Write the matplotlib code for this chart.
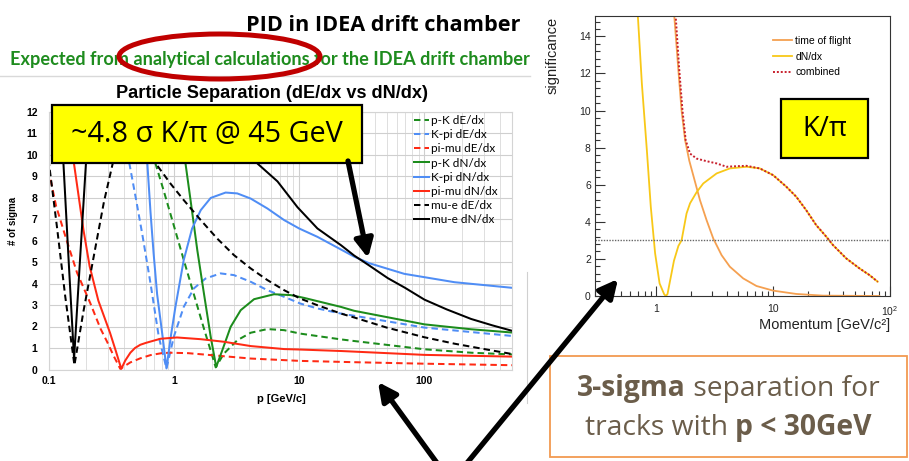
import matplotlib
matplotlib.use("Agg")
import matplotlib.pyplot as plt
from matplotlib.patches import Rectangle, Ellipse, FancyArrowPatch
from matplotlib.lines import Line2D
from matplotlib.ticker import LogLocator, MultipleLocator, NullFormatter

W, H = 909, 461

# ---- left panel: particle separation in sigma vs p [GeV/c] ----
pk_dedx_p = [0.62, 0.714, 0.832, 1.0, 1.2, 1.445, 1.74, 2.0, 2.16, 2.51, 3.21, 4.11, 5.58, 7.59, 10.2, 21.6, 27, 100, 237, 500]
pk_dedx_s = [13, 9.58, 8.3, 6.7, 5.1, 3.5, 1.9, 0.75, 0.1, 0.74, 1.36, 1.71, 1.88, 1.83, 1.67, 1.4, 1.33, 0.94, 0.78, 0.7]

kpi_dedx_p = [0.38, 0.436, 0.5, 0.56, 0.652, 0.759, 0.874, 1.0, 1.2, 1.445, 1.79, 2.36, 3.02, 4.11, 5.58, 7.59, 10.2, 14, 21.6, 27.5, 100, 500]
kpi_dedx_s = [13, 9.77, 7.9, 6.3, 4.0, 1.52, 0.05, 1.52, 2.91, 3.77, 4.23, 4.47, 4.39, 4.08, 3.69, 3.38, 3.07, 2.84, 2.6, 2.5, 1.95, 1.56]

pimu_dedx_p = [0.1, 0.115, 0.138, 0.169, 0.215, 0.26, 0.293, 0.33, 0.374, 0.41, 0.45, 0.5, 0.54, 0.652, 0.8, 0.94, 1.3, 1.64,
               4.11, 10.2, 27.5, 100, 500]
pimu_dedx_s = [9.3, 7.6, 6.1, 4.5, 3.1, 1.9, 1.3, 0.65, 0.03, 0.18, 0.33, 0.44, 0.52, 0.67, 0.76, 0.78, 0.76, 0.71,
               0.51, 0.4, 0.34, 0.27, 0.2]

pk_dndx_p = [1.1, 1.18, 1.24, 1.36, 1.54, 1.74, 1.97, 2.18, 2.44, 2.84, 3.42, 4.37, 6.31, 8.58, 10.97, 21.6, 27.5, 100, 237, 500]
pk_dndx_s = [14, 11.3, 9.58, 7.88, 5.55, 3.53, 1.52, 0.12, 0.9, 1.98, 2.76, 3.27, 3.5, 3.46, 3.33, 2.91, 2.73, 2.1, 1.87, 1.72]

kpi_dndx_p = [0.55, 0.612, 0.652, 0.69, 0.736, 0.807, 0.874, 0.95, 1.03, 1.2, 1.40, 1.64, 1.97, 2.59, 3.21, 4.11, 5.58,
              7.59, 10, 14, 21.6, 27.5, 36, 69, 174, 500]
kpi_dndx_s = [13, 9.77, 7.3, 5.4, 3.5, 1.7, 0.05, 1.6, 2.91, 5.09, 6.56, 7.41, 7.98, 8.23, 8.19, 7.95, 7.49,
              6.95, 6.56, 6.17, 5.58, 5.25, 4.95, 4.45, 4.06, 3.8]

pimu_dndx_p = [0.14, 0.158, 0.19, 0.213, 0.25, 0.31, 0.345, 0.381, 0.41, 0.45, 0.49, 0.54, 0.6, 0.652, 0.783, 1.06, 1.64,
               2.51, 4.11, 7.59, 10, 21.6, 100, 500]
pimu_dndx_s = [13, 9.77, 6.5, 4.8, 3.2, 1.7, 0.85, 0.03, 0.42, 0.78, 1.0, 1.15, 1.24, 1.3, 1.43, 1.49, 1.41,
               1.29, 1.09, 0.95, 0.93, 0.86, 0.68, 0.6]

mue_dedx_p = [0.1, 0.117, 0.136, 0.161, 0.19, 0.222, 0.277, 0.331, 0.4, 0.6, 0.714, 0.94, 1.2, 1.64, 2.22, 3.02, 4.11, 5.58,
              7.59, 10.2, 14, 21.6, 27.5, 50, 100, 174, 300, 500]
mue_dedx_s = [9.77, 6.6, 3.4, 0.2, 2.7, 4.8, 7.8, 9.77, 13, 13, 9.6, 8.65, 7.88, 6.95, 6.09, 5.32, 4.7, 4.16,
              3.69, 3.3, 2.99, 2.6, 2.42, 1.95, 1.5, 1.2, 0.95, 0.72]

mue_dndx_p = [0.125, 0.131, 0.145, 0.16, 0.178, 0.2, 0.21, 4.3, 4.65, 6.72, 9.7, 14, 21.6, 27.5, 36, 51, 70, 100, 150, 236, 350, 500]
mue_dndx_s = [12.5, 9.8, 5.0, 0.5, 5.0, 9.8, 12.5, 13, 9.58, 8.75, 7.55, 6.56, 5.78, 5.3, 4.85, 4.25, 3.8, 3.25, 2.8, 2.35, 2.05, 1.8]

left_xticks = [0.1, 1, 10, 100]
left_xticklabels = ["0.1", "1", "10", "100"]
left_yticks = list(range(13))

# ---- right panel: K/pi significance vs momentum ----
tof_p = [1.38, 1.43, 1.55, 1.65, 1.77, 1.92, 2.15, 2.37, 2.70, 3.08, 3.63, 4.27, 5.55, 7.21, 10, 15.8, 26.7, 81]
tof_s = [16, 15.08, 12.17, 10.0, 8.4, 7.3, 6.16, 5.17, 4.09, 3.1, 2.2, 1.58, 0.95, 0.54, 0.29, 0.11, 0.02, 0.0]

dndx_p = [0.68, 0.698, 0.755, 0.833, 0.90, 0.98, 1.07, 1.17, 1.21, 1.25, 1.42, 1.55, 1.65, 1.82, 1.95, 2.22, 2.53, 3.29, 4.27,
          5.93, 7.7, 10, 13, 15.8, 19.2, 23.4, 28.5, 32.5, 42.2, 54.8, 66.7, 78.5]
dndx_s = [16, 15.08, 11.45, 7.86, 4.81, 2.3, 0.68, 0.1, 0.0, 0.1, 1.9, 2.7, 3.0, 4.45, 5.0, 5.6, 6.07, 6.61, 6.88,
          6.97, 6.88, 6.52, 5.89, 5.35, 4.63, 3.82, 3.2, 2.75, 2.03, 1.49, 1.13, 0.77]

comb_p = [1.45, 1.47, 1.57, 1.68, 1.79, 1.95, 2.22, 2.70, 3.29, 4.0, 4.87, 5.93, 7.7, 10, 13, 15.8, 19.2, 23.4, 28.5, 32.5, 42.2, 54.8, 66.7, 78.5]
comb_s = [16, 15.08, 12.35, 10.0, 8.4, 7.68, 7.41, 7.27, 7.15, 6.97, 7.0, 7.02, 6.88, 6.52, 5.89, 5.35, 4.63, 3.82, 3.2, 2.75, 2.03, 1.49, 1.13, 0.77]

sig_level = 3
right_xticks = [1, 10, 100]
right_xticklabels = ["1", "10", r"$\mathregular{10^{2}}$"]
right_yticks = [0, 2, 4, 6, 8, 10, 12, 14]


def px(x, y):
    # pixel position (from top-left) -> figure fraction
    return (x / W, 1 - y / H)


fig = plt.figure(figsize=(W / 100, H / 100), dpi=100)
renderer = fig.canvas.get_renderer()


def fit(t, width):
    w = t.get_window_extent(renderer).width
    t.set_fontsize(t.get_fontsize() * width / w)


# ---------------- left panel ----------------
ax1 = fig.add_axes([48.5 / W, 1 - 369.5 / H, 463.5 / W, 258 / H])
green, blue, red = "#1c8c1c", "#4f8df5", "#ff2a14"
dash = (0, (3.2, 2.0))
series = [
    (pk_dedx_p, pk_dedx_s, green, dash, "p-K dE/dx"),
    (kpi_dedx_p, kpi_dedx_s, blue, dash, "K-pi dE/dx"),
    (pimu_dedx_p, pimu_dedx_s, red, dash, "pi-mu dE/dx"),
    (pk_dndx_p, pk_dndx_s, green, "-", "p-K dN/dx"),
    (kpi_dndx_p, kpi_dndx_s, blue, "-", "K-pi dN/dx"),
    (pimu_dndx_p, pimu_dndx_s, red, "-", "pi-mu dN/dx"),
    (mue_dedx_p, mue_dedx_s, "black", dash, "mu-e dE/dx"),
    (mue_dndx_p, mue_dndx_s, "black", "-", "mu-e dN/dx"),
]
for p, s, c, ls, lab in series:
    ax1.plot(p, s, color=c, ls=ls, lw=1.45, label=lab)

ax1.set_xscale("log")
ax1.set_xlim(0.1, 500)
ax1.set_ylim(0, 12)
ax1.set_xticks(left_xticks, labels=left_xticklabels, fontweight="bold", family="Liberation Sans", fontsize=7.5)
ax1.set_yticks(left_yticks, labels=[str(v) for v in left_yticks], fontweight="bold", family="Liberation Sans", fontsize=7.5)
ax1.xaxis.set_minor_locator(LogLocator(base=10, subs=range(2, 10)))
ax1.xaxis.set_minor_formatter(NullFormatter())
ax1.tick_params(which="both", length=0)
ax1.tick_params(axis="y", pad=8)
ax1.tick_params(axis="x", pad=5)
ax1.grid(True, which="major", color="#cfcfcf", lw=0.8)
ax1.grid(True, which="minor", axis="x", color="#dedede", lw=0.7)
ax1.set_axisbelow(True)
for sp in ax1.spines.values():
    sp.set_color("#d4d4d4")
    sp.set_linewidth(0.8)

ax1.legend(loc="upper left", bbox_to_anchor=px(414, 115), bbox_transform=fig.transFigure,
           frameon=False, borderpad=0, borderaxespad=0, handlelength=1.3, handletextpad=0.15,
           labelspacing=0.27, prop={"family": "Lato", "size": 8.5})

fig.text(*px(13.5, 221), "# of sigma", rotation=90, ha="center", va="center",
         fontweight="bold", family="Liberation Sans", fontsize=7)
fig.text(*px(281.5, 399), "p [GeV/c]", ha="center", va="center",
         fontweight="bold", family="Liberation Sans", fontsize=8)
ptitle = fig.text(*px(272, 93.5), "Particle Separation (dE/dx vs dN/dx)", ha="center", va="center",
                  fontweight="bold", family="Liberation Sans", fontsize=13)
fit(ptitle, 310)

# ---------------- right panel ----------------
ax2 = fig.add_axes([595 / W, 1 - 296 / H, 295 / W, 280 / H])
ax2.plot(tof_p, tof_s, color="#f5a050", lw=1.3, label="time of flight")
ax2.plot(dndx_p, dndx_s, color="#f8c818", lw=1.3, label="dN/dx")
ax2.plot(comb_p, comb_s, color="#c8202d", lw=1.4, ls=(0, (1, 1)), label="combined")
ax2.axhline(sig_level, color="#666666", lw=1.0, ls=(0, (1, 1)))
ax2.set_xscale("log")
ax2.set_xlim(0.3, 100)
ax2.set_ylim(0, 15.1)
ax2.set_xticks(right_xticks, labels=right_xticklabels, family="Liberation Sans", fontsize=7.5, color="#222222")
ax2.set_yticks(right_yticks, labels=[str(v) for v in right_yticks], family="Liberation Sans", fontsize=7.5, color="#222222")
ax2.xaxis.set_minor_locator(LogLocator(base=10, subs=range(2, 10)))
ax2.xaxis.set_minor_formatter(NullFormatter())
ax2.yaxis.set_minor_locator(MultipleLocator(0.4))
ax2.tick_params(which="both", direction="in", top=False, right=False, color="#333333", width=0.8)
ax2.tick_params(which="major", length=7)
ax2.tick_params(which="minor", length=3.5)
ax2.tick_params(axis="x", pad=6)
ax2.tick_params(axis="y", pad=3)
for sp in ax2.spines.values():
    sp.set_color("#333333")
    sp.set_linewidth(0.8)
ax2.legend(loc="upper left", bbox_to_anchor=px(773, 36), bbox_transform=fig.transFigure,
           frameon=False, borderpad=0, borderaxespad=0, handlelength=1.8, handletextpad=0.35,
           labelspacing=0.55, prop={"family": "Liberation Sans", "size": 7.5})
fig.text(*px(553, 16.5), "significance", rotation=90, ha="center", va="top",
         family="Liberation Sans", fontsize=10.5, color="#222222")
fig.text(*px(890, 325.5), "Momentum [GeV/c²]", ha="right", va="center",
         family="Liberation Sans", fontsize=10.5, color="#222222")

# ---------------- slide header ----------------
title = fig.text(*px(520, 25.5), "PID in IDEA drift chamber", ha="right", va="center",
                 fontsize=15.5, fontweight="bold", family="Open Sans")
fit(title, 274)
sub = fig.text(*px(10, 59.5), "Expected from analytical calculations for the IDEA drift chamber",
               ha="left", va="center", fontsize=11.5, fontweight="bold", family="Lato", color="#1e8c1e")
fit(sub, 517)
fig.add_artist(Line2D([0, 530 / W], [1 - 76.5 / H] * 2, color="#d9d9d9", lw=1))
fig.add_artist(Line2D([526.7 / W] * 2, [1 - 272 / H, 1 - 403 / H], color="#d0d0d0", lw=0.8))
fig.add_artist(Ellipse(px(219.5, 56.5), 201 / W, 45 / H, transform=fig.transFigure,
                       fill=False, edgecolor="#c00000", lw=3.6, zorder=5))

# ---------------- callouts ----------------
yellow = "#ffff00"
fig.add_artist(Rectangle(px(52, 163), 310 / W, 58 / H, transform=fig.transFigure,
                         facecolor=yellow, edgecolor="black", lw=1.6, zorder=5))
t = fig.text(*px(207, 135), "~4.8 σ K/π @ 45 GeV", ha="center", va="center", zorder=6,
             family=["Open Sans", "DejaVu Sans"], fontsize=19)
fit(t, 272)

fig.add_artist(Rectangle(px(781, 158), 87 / W, 59 / H, transform=fig.transFigure,
                         facecolor=yellow, edgecolor="black", lw=1.6, zorder=5))
t = fig.text(*px(824.5, 129), "K/π", ha="center", va="center", zorder=6,
             family=["Open Sans", "DejaVu Sans"], fontsize=19)
fit(t, 45)

arrow_kw = dict(transform=fig.transFigure, arrowstyle="-|>,head_length=11,head_width=5.5",
                color="black", lw=3.8, zorder=7, shrinkA=0, shrinkB=0)
fig.add_artist(FancyArrowPatch(px(348, 161), px(368, 258), **arrow_kw))
fig.add_artist(FancyArrowPatch(px(437, 463), px(378, 382), **arrow_kw))
fig.add_artist(FancyArrowPatch(px(467, 463), px(618, 279), **arrow_kw))

# summary box with mixed bold / regular text
fig.add_artist(Rectangle(px(550, 456.7), 356.7 / W, 101 / H, transform=fig.transFigure,
                         facecolor="white", edgecolor="#f29a50", lw=1.3, zorder=5))
brown = "#6b5d4a"
lines = [
    ([("3-sigma", "bold"), (" separation for", "normal")], 396),
    ([("tracks with ", "normal"), ("p < 30GeV", "bold")], 435),
]
built = []
for parts, yb in lines:
    texts = [fig.text(0, 0, s, fontsize=20, fontweight=wt, family="Open Sans", color=brown,
                      va="baseline", ha="left", zorder=6) for s, wt in parts]
    built.append((texts, yb))
first_w = sum(tx.get_window_extent(renderer).width for tx in built[0][0])
scale = 302 / first_w
for texts, yb in built:
    for tx in texts:
        tx.set_fontsize(20 * scale)
    widths = [tx.get_window_extent(renderer).width for tx in texts]
    x = 728 - sum(widths) / 2
    for tx, w in zip(texts, widths):
        tx.set_position(px(x, yb))
        x += w

fig.savefig("out.png", dpi=100)
